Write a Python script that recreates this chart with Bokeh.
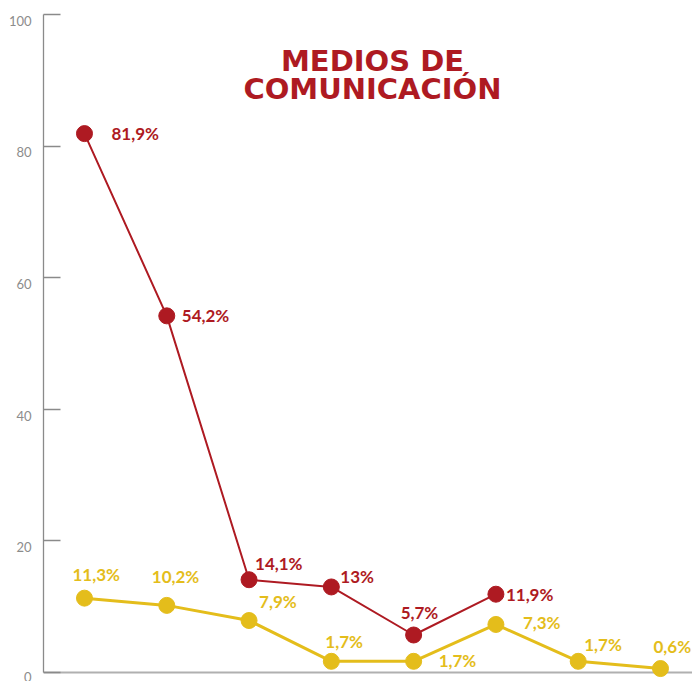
from bokeh.plotting import figure
from bokeh.models import ColumnDataSource, Range1d, LinearAxis, FixedTicker, Span, Label
from bokeh.core.properties import value
from bokeh.embed import file_html
from bokeh.resources import INLINE

# ---- data ----
red_x = [0, 1, 2, 3, 4, 5]
red_values = [81.9, 54.2, 14.1, 13, 5.7, 11.9]
yellow_x = [0, 1, 2, 3, 4, 5, 6, 7]
yellow_values = [11.3, 10.2, 7.9, 1.7, 1.7, 7.3, 1.7, 0.6]
y_ticks = [0, 20, 40, 60, 80, 100]
title_lines = ["MEDIOS DE", "COMUNICACIÓN"]

# ---- label placement (screen px offsets, styling only) ----
red_dx = [27, 15, 6, 9, -13, 10]
red_dy = [0, 0, -16, -10, -22, 0]
yellow_dx = [-12, -15, 10, -6, 25, 27, 6, -7]
yellow_dy = [-24, -29, -19, -20, -1, -2, -17, -22]

RED = "#ae1a22"
YELLOW = "#e4bd1b"


def fmt(v):
    return f"{v:g}".replace(".", ",") + "%"


y_start = -1.368
shift = 0.95

p = figure(width=692, height=681, output_backend="svg", toolbar_location=None,
           x_range=Range1d(-0.498, 7.389), y_range=Range1d(y_start, 100),
           x_axis_location=None, y_axis_location=None,
           min_border_left=43, min_border_right=0, min_border_top=14, min_border_bottom=0)
p.outline_line_color = None
p.xgrid.visible = False
p.ygrid.visible = False
p.background_fill_color = "white"
p.border_fill_color = "white"

# main axis: line + inward tick marks (as minor ticks, no labels)
main_axis = LinearAxis(ticker=FixedTicker(ticks=[], minor_ticks=y_ticks), bounds=(0, 100))
main_axis.axis_line_color = "#8a8a8a"
main_axis.axis_line_width = 1.3
main_axis.major_tick_line_color = None
main_axis.minor_tick_line_color = "#8a8a8a"
main_axis.minor_tick_line_width = 1.3
main_axis.minor_tick_in = 17
main_axis.minor_tick_out = 0
main_axis.major_tick_out = 0
main_axis.major_tick_in = 0
main_axis.major_label_standoff = 0
p.add_layout(main_axis, "left")

# label axis (slightly shifted down, as in reference)
p.extra_y_ranges = {"lab": Range1d(y_start + shift, 100 + shift)}
lab_axis = LinearAxis(y_range_name="lab", ticker=FixedTicker(ticks=y_ticks))
lab_axis.axis_line_color = None
lab_axis.major_tick_line_color = None
lab_axis.minor_tick_line_color = None
lab_axis.major_label_text_color = "#8c8c8c"
lab_axis.major_label_text_font = "Lato"
lab_axis.major_label_text_font_size = "13px"
lab_axis.major_label_standoff = 6
p.add_layout(lab_axis, "left")

# bottom baseline
p.add_layout(Span(location=0, dimension="width", line_color="#b0b0b0",
                  line_width=2, level="underlay"))

red_src = ColumnDataSource(dict(x=red_x, y=red_values,
                                label=[fmt(v) for v in red_values],
                                dx=red_dx, dy=red_dy))
yel_src = ColumnDataSource(dict(x=yellow_x, y=yellow_values,
                                label=[fmt(v) for v in yellow_values],
                                dx=yellow_dx, dy=yellow_dy))

p.line("x", "y", source=yel_src, line_color=YELLOW, line_width=3)
p.scatter("x", "y", source=yel_src, size=16, fill_color=YELLOW, line_color=YELLOW)
p.line("x", "y", source=red_src, line_color=RED, line_width=2)
p.scatter("x", "y", source=red_src, size=16, fill_color=RED, line_color=RED)

for src, col in ((red_src, RED), (yel_src, YELLOW)):
    p.text("x", "y", text="label", source=src, x_offset="dx", y_offset="dy",
           text_font=value("Lato"), text_font_style="bold", text_font_size="17px",
           text_color=col, text_align="left", text_baseline="middle")

for i, line in enumerate(title_lines):
    p.add_layout(Label(x=3.5, y=93 - 4.25 * i, text=line, text_align="center",
                       text_baseline="middle", text_font="DejaVu Sans",
                       text_font_style="bold", text_font_size="29px",
                       text_color=RED))

open("out.html", "w").write(file_html(p, INLINE))
